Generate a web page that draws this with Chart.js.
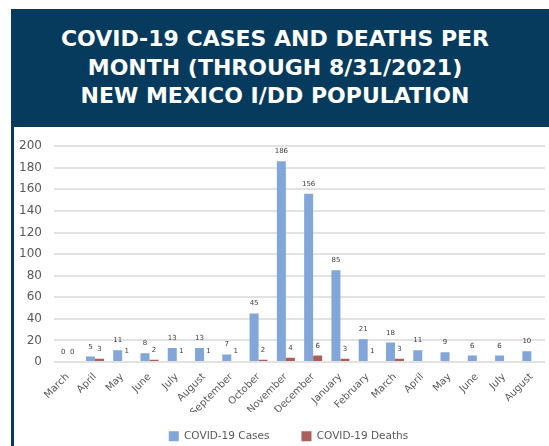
<!DOCTYPE html>
<html>
<head>
<meta charset="utf-8">
<script src="https://cdn.jsdelivr.net/npm/chart.js@4"></script>
<style>
  html, body { margin: 0; padding: 0; }
  body { width: 549px; height: 446px; overflow: hidden; position: relative; background: #fff; font-family: "DejaVu Sans", sans-serif; }
  .banner { position: absolute; left: 11px; top: 9px; width: 538px; height: 118px; background: #063b5d; }
  .stripe { position: absolute; left: 11px; top: 127px; width: 3px; height: 319px; background: #063b5d; }
  .titre { position: absolute; left: 0; top: 25px; width: 550px; text-align: center; color: #fff;
           font: bold 22px/28.5px "DejaVu Sans", sans-serif; }
  #myChart { position: absolute; left: 14px; top: 127px; }
</style>
</head>
<body>
<div class="banner"></div>
<div class="stripe"></div>
<div class="titre">COVID-19 CASES AND DEATHS PER<br>MONTH (THROUGH 8/31/2021)<br>NEW MEXICO I/DD POPULATION</div>
<canvas id="myChart" width="535" height="338"></canvas>
<script>
// données
var months = ['March', 'April', 'May', 'June', 'July', 'August', 'September', 'October', 'November',
              'December', 'January', 'February', 'March', 'April', 'May', 'June', 'July', 'August'];
var cases = [0, 5, 11, 8, 13, 13, 7, 45, 186, 156, 85, 21, 18, 11, 9, 6, 6, 10];
var deaths = [0, 3, 1, 2, 1, 1, 1, 2, 4, 6, 3, 1, 3, null, null, null, null, null];
var yTicks = [0, 20, 40, 60, 80, 100, 120, 140, 160, 180, 200];

// étiquettes au-dessus des barres
var barLabels = {
    id: 'barLabels',
    afterDatasetsDraw: function(chart) {
        var ctx = chart.ctx;
        ctx.save();
        ctx.font = '7px "DejaVu Sans"';
        ctx.fillStyle = '#404040';
        ctx.textAlign = 'center';
        ctx.textBaseline = 'alphabetic';
        chart.data.datasets.forEach(function(ds, i) {
            var meta = chart.getDatasetMeta(i);
            meta.data.forEach(function(bar, j) {
                var v = ds.data[j];
                if (v === null) return;
                ctx.fillText(String(v), bar.x, bar.y - 8);
            });
        });
        ctx.restore();
    }
};

// légende : remonter sous les mois et décaler un peu à droite
var legendPlace = {
    id: 'legendPlace',
    afterLayout: function(chart) {
        var lg = chart.legend;
        var dy = lg.top - 272;
        var dx = 8;
        lg.top -= dy; lg.bottom -= dy;
        lg.left += dx; lg.right += dx;
    }
};

var ctx = document.getElementById('myChart').getContext('2d');
var myChart = new Chart(ctx, {
    type: 'bar',
    data: {
        labels: months,
        datasets: [{
            label: 'COVID-19 Cases',
            data: cases,
            backgroundColor: '#82a6d8'
        }, {
            label: 'COVID-19 Deaths',
            data: deaths,
            backgroundColor: '#aa5d5a'
        }]
    },
    options: {
        responsive: false,
        animation: false,
        barPercentage: 1,
        categoryPercentage: 0.66,
        layout: { padding: { left: 2, right: 4, top: 10, bottom: 0.5 } },
        plugins: {
            tooltip: { enabled: false },
            legend: {
                position: 'bottom',
                labels: {
                    boxWidth: 10,
                    boxHeight: 10,
                    padding: 32,
                    color: '#595959',
                    font: { family: 'DejaVu Sans', size: 10.5 }
                }
            }
        },
        scales: {
            x: {
                grid: { display: false },
                border: { display: false },
                ticks: {
                    color: '#595959',
                    font: { family: 'DejaVu Sans', size: 10 },
                    minRotation: 45,
                    maxRotation: 45,
                    autoSkip: false,
                    padding: 1
                },
                afterFit: function(scale) { scale.height = 50; }
            },
            y: {
                min: 0,
                max: 200,
                border: { display: false },
                grid: { color: '#e2e2e2', lineWidth: 2, drawTicks: false },
                afterBuildTicks: function(scale) {
                    scale.ticks = yTicks.map(function(v) { return { value: v }; });
                },
                ticks: {
                    color: '#595959',
                    font: { family: 'DejaVu Sans', size: 12 },
                    padding: 12
                },
                afterFit: function(scale) { scale.width = 38; }
            }
        }
    },
    plugins: [barLabels, legendPlace]
});
</script>
</body>
</html>
